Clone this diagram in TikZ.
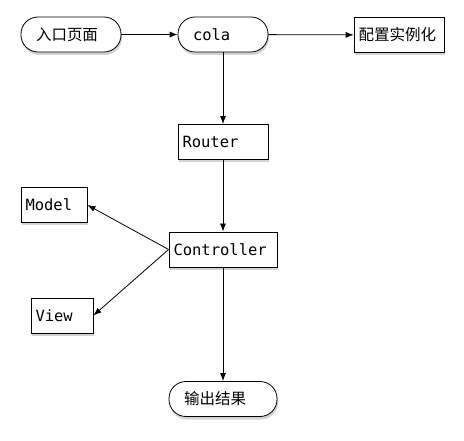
\documentclass[tikz,border=0pt]{standalone}
\usepackage{fontspec}
\setmonofont{DejaVu Sans Mono}
\newfontfamily\cjk{Noto Sans CJK SC}
\usetikzlibrary{arrows.meta,shadows}

\begin{document}
\begin{tikzpicture}[x=1pt, y=-1pt, >={Latex[length=8pt,width=6pt]}, line width=0.8pt,
    font=\fontsize{15.5}{18}\selectfont\ttfamily,
    box/.style={draw, fill=white, rectangle, minimum height=35pt, inner xsep=4.5pt, inner ysep=0pt,
      align=left, drop shadow={opacity=0.35, shadow xshift=1pt, shadow yshift=-3pt}},
    pill/.style={box, rounded corners=17pt, inner xsep=15pt}]
  \useasboundingbox (0,0) rectangle (464,441);
  % top row
  \node[pill, text width=70pt] (entry) at (71,34.5) {\cjk 入口页面};
  \node[pill, text width=60pt] (cola) at (223,34.5) {cola};
  \node[box, text width=81pt] (config) at (399,35) {\cjk 配置实例化};
  % middle column
  \node[box, text width=81pt] (router) at (223,142) {Router};
  \node[box, text width=99pt] (controller) at (223,249.5) {Controller};
  \node[pill, text width=78pt] (output) at (223,399) {\cjk 输出结果};
  % left side
  \node[box, text width=57pt] (model) at (54,205) {Model};
  \node[box, text width=53pt] (view) at (62,315.5) {View};
  \draw[->] (entry) -- (cola);
  \draw[->] (cola) -- (config);
  \draw[->] (cola) -- (router);
  \draw[->] (router) -- (controller);
  \draw[->] (controller.west) -- (model.east);
  \draw[->] (controller.west) -- (view.east);
  \draw[->] (controller) -- (output);
\end{tikzpicture}
\end{document}
